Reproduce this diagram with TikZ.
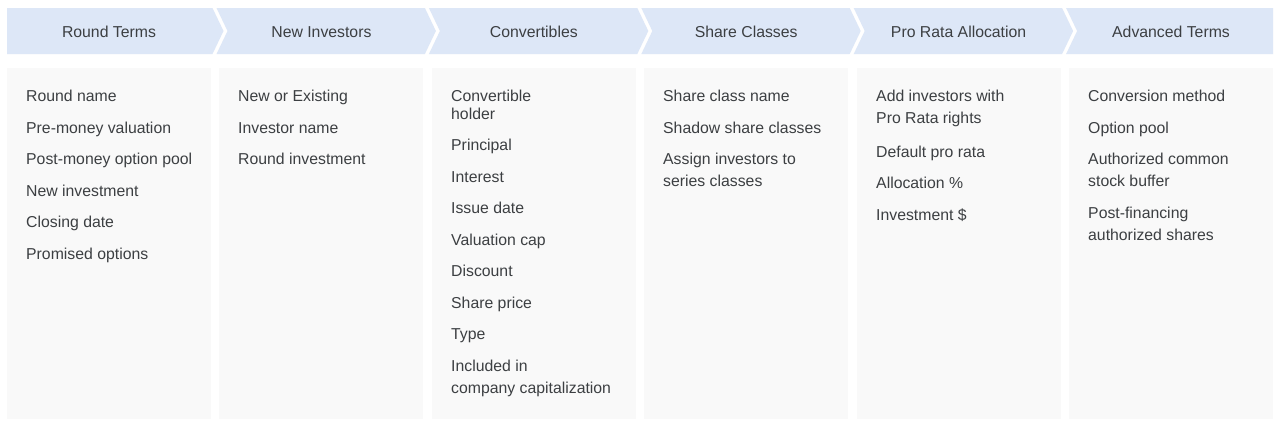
\documentclass[tikz,border=0pt]{standalone}
\usepackage{fontspec}
\setmainfont{Liberation Sans}
\definecolor{hdr}{HTML}{DDE7F7}
\definecolor{pnl}{HTML}{F9F9F9}
\definecolor{txt}{HTML}{3C3F42}
\begin{document}
\begin{tikzpicture}[x=1pt,y=-1pt,
  hdrtext/.style={font=\fontsize{15.8}{18}\selectfont, text=txt, inner sep=0pt, anchor=mid, yshift=-3.5pt},
  item/.style={font=\fontsize{15.8}{18}\selectfont, text=txt, inner sep=0pt, anchor=mid west, yshift=-3.5pt},
  panel/.style={fill=pnl, draw=none}]
\useasboundingbox (0,0) rectangle (1287,432);
\fill[white] (0,0) rectangle (1287,432);
% chevrons
\def\dp{11}
\fill[hdr] (7,8) -- (212.5,8) -- (212.5+\dp,31) -- (212.5,54) -- (7,54) -- cycle;
\foreach \i in {1,2,3,4}{
  \pgfmathsetmacro{\lt}{216.5+212.4*(\i-1)}
  \pgfmathsetmacro{\rt}{212.5+212.4*\i}
  \fill[hdr] (\lt,8) -- (\rt,8) -- (\rt+\dp,31) -- (\rt,54) -- (\lt,54) -- (\lt+\dp,31) -- cycle;
}
\fill[hdr] (216.5+212.4*4,8) -- (1273,8) -- (1273,54) -- (216.5+212.4*4,54) -- (216.5+212.4*4+\dp,31) -- cycle;
% panels
\foreach \i in {0,...,5}{
  \fill[panel] (7+212.4*\i,68) rectangle (211+212.4*\i,419);
}
% header texts
\node[hdrtext] (h1) at (109,31) {Round Terms};
\node[hdrtext] (h2) at (321.4,31) {New Investors};
\node[hdrtext] (h3) at (533.8,31) {Convertibles};
\node[hdrtext] (h4) at (746.2,31) {Share Classes};
\node[hdrtext] (h5) at (958.6,31) {Pro Rata Allocation};
\node[hdrtext] (h6) at (1171,31) {Advanced Terms};
% column 1
\node[item] (a1) at (26,95) {Round name};
\node[item] (a2) at (26,127) {Pre-money valuation};
\node[item] (a3) at (26,158) {Post-money option pool};
\node[item] (a4) at (26,190) {New investment};
\node[item] (a5) at (26,221) {Closing date};
\node[item] (a6) at (26,253) {Promised options};
% column 2
\node[item] (b1) at (238,95) {New or Existing};
\node[item] (b2) at (238,127) {Investor name};
\node[item] (b3) at (238,158) {Round investment};
% column 3
\node[item] (c1a) at (451,95) {Convertible};
\node[item] (c1b) at (451,113) {holder};
\node[item] (c2) at (451,144) {Principal};
\node[item] (c3) at (451,176) {Interest};
\node[item] (c4) at (451,207) {Issue date};
\node[item] (c5) at (451,239) {Valuation cap};
\node[item] (c6) at (451,270) {Discount};
\node[item] (c7) at (451,302) {Share price};
\node[item] (c8) at (451,333) {Type};
\node[item] (c9a) at (451,365) {Included in};
\node[item] (c9b) at (451,387) {company capitalization};
% column 4
\node[item] (d1) at (663,95) {Share class name};
\node[item] (d2) at (663,127) {Shadow share classes};
\node[item] (d3a) at (663,158) {Assign investors to};
\node[item] (d3b) at (663,180) {series classes};
% column 5
\node[item] (e1a) at (876,95) {Add investors with};
\node[item] (e1b) at (876,117) {Pro Rata rights};
\node[item] (e2) at (876,151) {Default pro rata};
\node[item] (e3) at (876,182) {Allocation \%};
\node[item] (e4) at (876,214) {Investment \$};
% column 6
\node[item] (f1) at (1088,95) {Conversion method};
\node[item] (f2) at (1088,127) {Option pool};
\node[item] (f3a) at (1088,158) {Authorized common};
\node[item] (f3b) at (1088,180) {stock buffer};
\node[item] (f4a) at (1088,212) {Post-financing};
\node[item] (f4b) at (1088,234) {authorized shares};
\end{tikzpicture}
\end{document}
